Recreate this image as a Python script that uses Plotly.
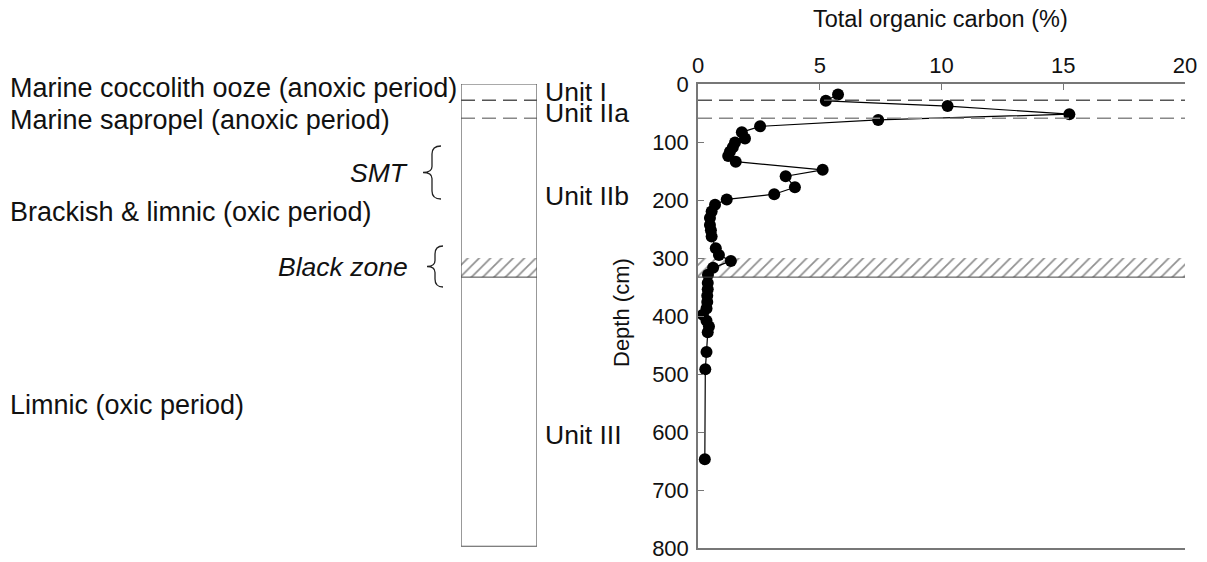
import plotly.graph_objects as go

W, H = 1207, 562

# ---- data ----
depth_cm = [18, 29, 38, 52, 62, 73, 83, 94, 101, 109, 117, 124, 134, 148, 159, 178, 190, 199,
            208, 220, 231, 243, 252, 263, 283, 295, 305, 317, 329,
            343, 354, 365, 376, 387, 398, 408, 418, 428, 462, 492, 647]
toc_pct = [5.75, 5.25, 10.25, 15.25, 7.4, 2.55, 1.8, 1.93, 1.52, 1.43, 1.31, 1.24, 1.55, 5.12, 3.6, 3.98, 3.13, 1.18,
           0.7, 0.56, 0.49, 0.49, 0.53, 0.56, 0.73, 0.86, 1.35, 0.62, 0.41,
           0.4, 0.4, 0.38, 0.38, 0.35, 0.2, 0.35, 0.45, 0.4, 0.35, 0.3, 0.28]

x_ticks = [0, 5, 10, 15, 20]
y_ticks = [0, 100, 200, 300, 400, 500, 600, 700, 800]

unit_boundaries = [28, 59]          # dashed lines (cm)
black_zone = [300, 333]             # hatched interval (cm)
core_bottom = 797

left_labels = [("Marine coccolith ooze (anoxic period)", 7),
               ("Marine sapropel (anoxic period)", 62),
               ("Brackish & limnic (oxic period)", 221),
               ("Limnic (oxic period)", 553)]
italic_labels = [("SMT", 153), ("Black zone", 316)]
unit_labels = [("Unit I", 13), ("Unit IIa", 50), ("Unit IIb", 193), ("Unit III", 605)]

FONT = "Liberation Sans, Arial, sans-serif"


def px(x):
    return x / W


def py(y):
    return 1 - y / H


fig = go.Figure()

hatch = dict(shape="/", size=8, solidity=0.22, fgcolor="#222", bgcolor="rgba(0,0,0,0)")
# hatched black zone in main plot
fig.add_trace(go.Scatter(
    x=[0, 20, 20, 0, 0],
    y=[black_zone[0], black_zone[0], black_zone[1], black_zone[1], black_zone[0]],
    mode="lines", fill="toself", line=dict(width=0), fillcolor="rgba(0,0,0,0)",
    fillpattern=hatch, hoverinfo="skip", showlegend=False, xaxis="x", yaxis="y"))
# hatched black zone in core column
fig.add_trace(go.Scatter(
    x=[0, 1, 1, 0, 0],
    y=[black_zone[0], black_zone[0], black_zone[1], black_zone[1], black_zone[0]],
    mode="lines", fill="toself", line=dict(width=0), fillcolor="rgba(0,0,0,0)",
    fillpattern=hatch, hoverinfo="skip", showlegend=False, xaxis="x2", yaxis="y"))

# TOC profile
fig.add_trace(go.Scatter(
    x=toc_pct, y=depth_cm, mode="lines+markers",
    line=dict(color="black", width=1.2),
    marker=dict(color="black", size=12),
    showlegend=False, xaxis="x", yaxis="y"))

shapes = []
dash_colors = ["#555", "#888"]
for d, c in zip(unit_boundaries, dash_colors):
    shapes.append(dict(type="line", xref="x", yref="y", x0=0, x1=20, y0=d, y1=d,
                       line=dict(color=c, width=1.5, dash="14px,7px")))
    shapes.append(dict(type="line", xref="x2", yref="y", x0=0, x1=1, y0=d, y1=d,
                       line=dict(color=c, width=1.5, dash="14px,7px")))
# bottom of black zone
shapes.append(dict(type="line", xref="x", yref="y", x0=0, x1=20, y0=black_zone[1], y1=black_zone[1],
                   line=dict(color="#444", width=1)))
shapes.append(dict(type="line", xref="x2", yref="y", x0=0, x1=1, y0=black_zone[1], y1=black_zone[1],
                   line=dict(color="#444", width=1)))
# core column outline
shapes.append(dict(type="rect", xref="x2", yref="y", x0=0, x1=1, y0=0, y1=core_bottom,
                   line=dict(color="#555", width=1.2)))


def brace(x_tip, x_arm, y_top, y_bot):
    ym = (y_top + y_bot) / 2
    xm = (x_tip + x_arm) / 2
    pts = [
        ("M", [(x_arm, y_top)]),
        ("Q", [(xm, y_top), (xm, y_top + 8)]),
        ("L", [(xm, ym - 6)]),
        ("Q", [(xm, ym), (x_tip, ym)]),
        ("Q", [(xm, ym), (xm, ym + 6)]),
        ("L", [(xm, y_bot - 8)]),
        ("Q", [(xm, y_bot), (x_arm, y_bot)]),
    ]
    s = ""
    for cmd, p in pts:
        s += cmd + " " + " ".join(f"{px(a):.5f},{py(b):.5f}" for a, b in p) + " "
    return dict(type="path", xref="paper", yref="paper", path=s.strip(),
                line=dict(color="#222", width=1.3))


shapes.append(brace(423, 441, 146, 199))
shapes.append(brace(427, 443, 246, 287))

annotations = []
for t, d in left_labels:
    annotations.append(dict(text=t, xref="paper", yref="y", x=px(8), y=d, xanchor="left",
                            yanchor="middle", showarrow=False,
                            font=dict(family=FONT, size=27, color="#111")))
for t, d in italic_labels:
    annotations.append(dict(text=f"<i>{t}</i>", xref="paper", yref="y", x=px(410), y=d,
                            xanchor="right", yanchor="middle", showarrow=False,
                            font=dict(family=FONT, size=26.5, color="#111")))
for t, d in unit_labels:
    annotations.append(dict(text=t, xref="paper", yref="y", x=px(543), y=d, xanchor="left",
                            yanchor="middle", showarrow=False,
                            font=dict(family=FONT, size=26.5, color="#111")))
annotations.append(dict(text="Total organic carbon (%)", xref="paper", yref="paper",
                        x=px(940), y=py(19), xanchor="center", yanchor="middle", showarrow=False,
                        font=dict(family=FONT, size=23.5, color="#111")))
annotations.append(dict(text="Depth (cm)", xref="paper", yref="paper", textangle=-90,
                        x=px(621), y=py(313), xanchor="center", yanchor="middle", showarrow=False,
                        font=dict(family=FONT, size=22, color="#111")))

fig.update_layout(
    width=W, height=H, margin=dict(l=0, r=0, t=0, b=0, autoexpand=False),
    paper_bgcolor="white", plot_bgcolor="white",
    shapes=shapes, annotations=annotations,
    xaxis=dict(domain=[px(698), px(1185)], range=[0, 20], side="top", anchor="y",
               tickvals=x_ticks, ticks="inside", ticklen=6, tickcolor="#777",
               showline=True, linecolor="#777", linewidth=1.5, mirror=True,
               showgrid=False, zeroline=False, ticklabelstandoff=0,
               tickfont=dict(family=FONT, size=22, color="#111")),
    xaxis2=dict(domain=[px(461), px(537)], range=[0, 1], anchor="y", visible=False),
    yaxis=dict(domain=[py(548), py(84)], range=[800, 0], anchor="x",
               tickvals=y_ticks, ticks="inside", ticklen=6, tickcolor="#777",
               showline=True, linecolor="#777", linewidth=1.5,
               showgrid=False, zeroline=False, ticklabelstandoff=3,
               tickfont=dict(family=FONT, size=22, color="#111")),
)

post = """
document.documentElement.style.margin='0';
document.documentElement.style.padding='0';
document.body.style.margin='0';
document.body.style.padding='0';
document.body.style.overflow='hidden';
var gd=document.getElementById('{plot_id}');
Plotly.relayout(gd,{width:1207,height:562});
"""

fig.write_html("out.html", config={"responsive": False}, post_script=post)
